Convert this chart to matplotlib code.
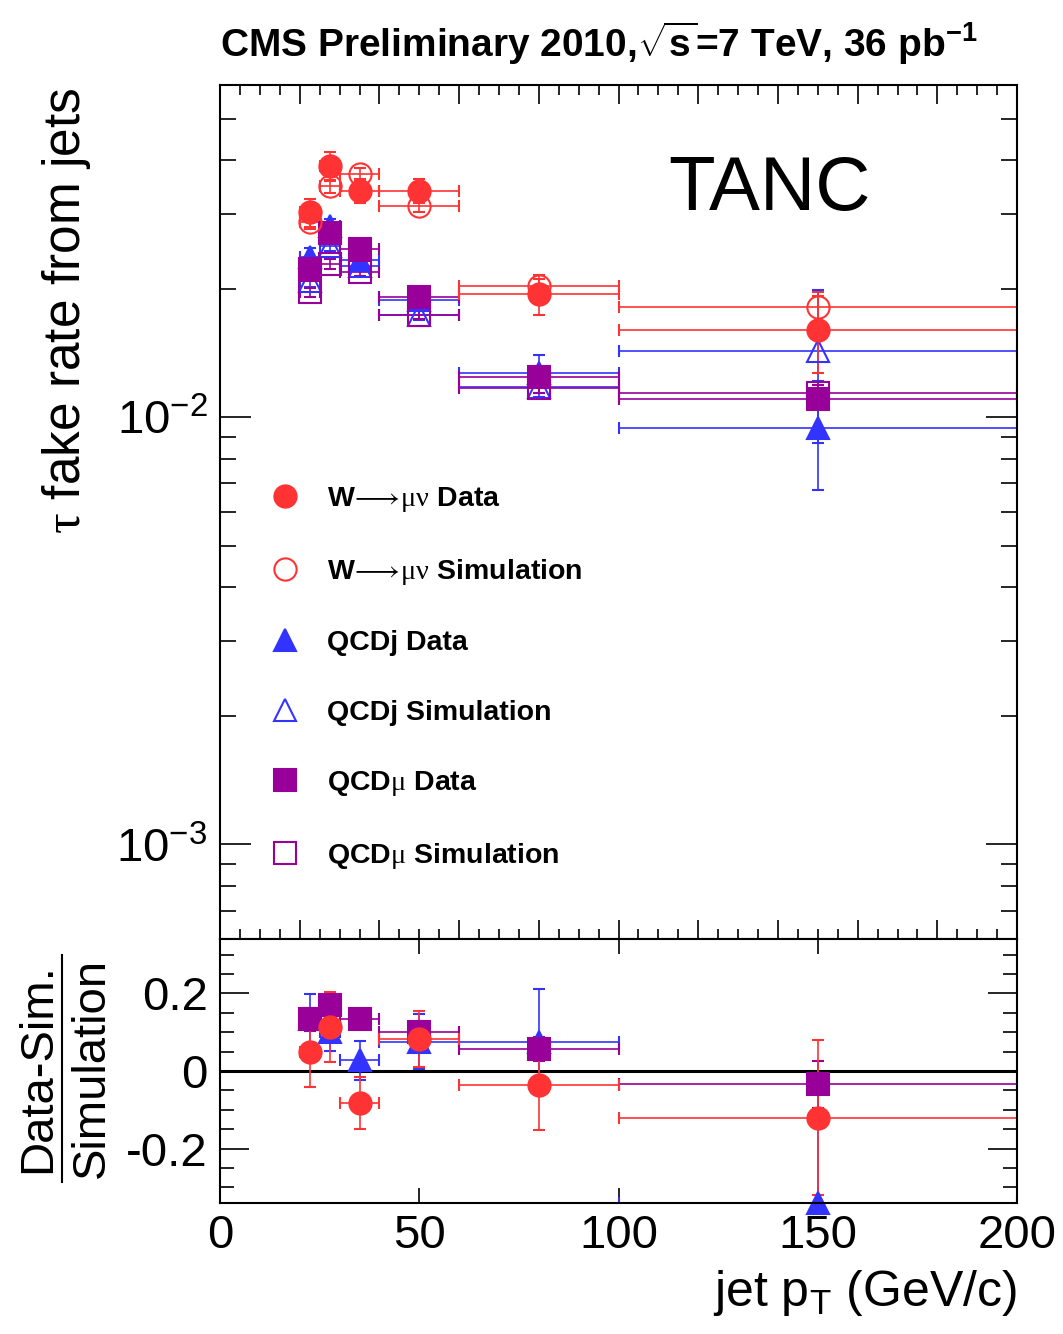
import matplotlib
matplotlib.use("Agg")
import matplotlib.pyplot as plt
from matplotlib.lines import Line2D
from matplotlib.ticker import (FixedLocator, FixedFormatter, MultipleLocator,
                               LogLocator, NullFormatter)
import numpy as np

plt.rcParams['font.family'] = ['Liberation Sans', 'DejaVu Sans']
plt.rcParams['mathtext.fontset'] = 'custom'
plt.rcParams['mathtext.rm'] = 'Liberation Serif'
plt.rcParams['mathtext.sf'] = 'Liberation Sans'
plt.rcParams['mathtext.bf'] = 'Liberation Sans:bold'

# jet pT bins (GeV/c)
bin_lo = [20, 25, 30, 40, 60, 100]
bin_hi = [25, 30, 40, 60, 100, 200]
pt = [22.5, 27.5, 35, 50, 80, 150]

# fake rates
w_data = [0.0302, 0.0388, 0.0339, 0.0339, 0.01945, 0.01597]
w_data_err = [0.0023, 0.0030, 0.0022, 0.0022, 0.0021, 0.0033]
w_sim = [0.0286, 0.0348, 0.0371, 0.0313, 0.0203, 0.0181]
w_sim_err = [0.0010, 0.0012, 0.0012, 0.0010, 0.0008, 0.0015]

qcdj_data = [0.0237, 0.0280, 0.0234, 0.0188, 0.01267, 0.00944]
qcdj_data_err = [0.0012, 0.0012, 0.0010, 0.0009, 0.0013, 0.0027]
qcdj_sim = [0.0208, 0.0252, 0.0226, 0.0174, 0.01175, 0.01429]
qcdj_sim_err = [0.0006, 0.0007, 0.0006, 0.0005, 0.0006, 0.0056]

qcdmu_data = [0.0223, 0.0270, 0.0248, 0.0191, 0.0124, 0.01106]
qcdmu_data_err = [0.0008, 0.0009, 0.0008, 0.0006, 0.0004, 0.0005]
qcdmu_sim = [0.0196, 0.0229, 0.0219, 0.0174, 0.01169, 0.0114]
qcdmu_sim_err = [0.0005, 0.0006, 0.0005, 0.0004, 0.0003, 0.0005]

# (data - sim) / sim
w_ratio = [0.050, 0.114, -0.082, 0.083, -0.037, -0.120]
w_ratio_err = [0.090, 0.090, 0.067, 0.073, 0.114, 0.200]
qcdj_ratio = [0.133, 0.101, 0.028, 0.076, 0.076, -0.340]
qcdj_ratio_err = [0.065, 0.050, 0.050, 0.070, 0.135, 0.300]
qcdmu_ratio = [0.133, 0.170, 0.133, 0.100, 0.057, -0.034]
qcdmu_ratio_err = [0.030, 0.030, 0.020, 0.030, 0.030, 0.060]

red = '#ff3333'
blue = '#3333ff'
purple = '#990099'

x = np.array(pt)
xerr = [x - np.array(bin_lo), np.array(bin_hi) - x]

fig = plt.figure(figsize=(10.63, 13.34), dpi=100)
ax = fig.add_axes([0.207, 0.296, 0.7498, 0.6403])
rax = fig.add_axes([0.207, 0.0982, 0.7498, 0.1978])

kw = dict(ls='none', ms=16, capsize=4.5, elinewidth=1.2, capthick=1.2, mew=1.5)


def draw(a, y, yerr, color, marker, filled):
    c = a.errorbar(x, y, yerr=yerr, xerr=xerr, marker=marker, color=color,
                   mec=color, mfc=color if filled else 'none', **kw)
    c[0].set_clip_on(False)  # markers on the frame stay whole


# upper panel
draw(ax, qcdj_sim, qcdj_sim_err, blue, '^', False)
draw(ax, qcdj_data, qcdj_data_err, blue, '^', True)
draw(ax, qcdmu_sim, qcdmu_sim_err, purple, 's', False)
draw(ax, qcdmu_data, qcdmu_data_err, purple, 's', True)
draw(ax, w_sim, w_sim_err, red, 'o', False)
draw(ax, w_data, w_data_err, red, 'o', True)

ax.set_yscale('log')
ax.set_xlim(0, 200)
ax.set_ylim(6e-4, 6e-2)
ax.xaxis.set_major_locator(MultipleLocator(20))
ax.xaxis.set_minor_locator(MultipleLocator(5))
ax.xaxis.set_major_formatter(NullFormatter())
ax.yaxis.set_major_locator(FixedLocator([1e-3, 1e-2]))
ax.yaxis.set_major_formatter(FixedFormatter([r'$\mathsf{10^{-3}}$', r'$\mathsf{10^{-2}}$']))
ax.yaxis.set_minor_locator(LogLocator(base=10, subs=np.arange(2, 10)))
ax.yaxis.set_minor_formatter(NullFormatter())
ax.tick_params(axis='both', which='both', direction='in', top=True, right=True, width=1.2)
ax.tick_params(axis='x', which='major', length=14)
ax.tick_params(axis='x', which='minor', length=7)
ax.tick_params(axis='y', which='major', length=22, labelsize=34, pad=9)
ax.tick_params(axis='y', which='minor', length=11.5)
for s in ax.spines.values():
    s.set_linewidth(1.5)

ax.text(0.562, 0.877, 'TANC', transform=ax.transAxes, fontsize=55, va='center', ha='left')
ax.set_ylabel(r'$\mathrm{\tau}$ fake rate from jets', fontsize=37)
ax.yaxis.set_label_coords(-0.16, 0.735)

handles = [
    Line2D([], [], ls='none', marker='o', ms=16, color=red, mew=1.5),
    Line2D([], [], ls='none', marker='o', ms=16, color=red, mfc='none', mew=1.5),
    Line2D([], [], ls='none', marker='^', ms=16, color=blue, mew=1.5),
    Line2D([], [], ls='none', marker='^', ms=16, color=blue, mfc='none', mew=1.5),
    Line2D([], [], ls='none', marker='s', ms=16, color=purple, mew=1.5),
    Line2D([], [], ls='none', marker='s', ms=16, color=purple, mfc='none', mew=1.5),
]
labels = [r'W$\!\longrightarrow\!\mathrm{\mu\nu}$ Data',
          r'W$\!\longrightarrow\!\mathrm{\mu\nu}$ Simulation',
          'QCDj Data', 'QCDj Simulation',
          r'QCD$\mathrm{\mu}$ Data', r'QCD$\mathrm{\mu}$ Simulation']
ax.legend(handles, labels, loc='upper left', bbox_to_anchor=(0.055, 0.532), frameon=False,
          prop={'size': 20.5, 'weight': 'bold'}, labelspacing=1.52, handlelength=1.5,
          handletextpad=0.7, borderpad=0, borderaxespad=0)

fig.text(220 / 1063, 1 - 43 / 1334,
         r'CMS Preliminary 2010,$\sqrt{\mathbf{s}}$=7 TeV, 36 pb$^{\mathbf{-1}}$',
         fontsize=28, fontweight='bold', ha='left', va='center')

# lower panel
rax.axhline(0, color='black', lw=2.2, zorder=1)
draw(rax, qcdj_ratio, qcdj_ratio_err, blue, '^', True)
draw(rax, qcdmu_ratio, qcdmu_ratio_err, purple, 's', True)
draw(rax, w_ratio, w_ratio_err, red, 'o', True)

rax.set_xlim(0, 200)
rax.set_ylim(-0.34, 0.34)
rax.xaxis.set_major_locator(MultipleLocator(50))
rax.yaxis.set_major_locator(FixedLocator([-0.2, 0, 0.2]))
rax.yaxis.set_major_formatter(FixedFormatter(['-0.2', '0', '0.2']))
rax.yaxis.set_minor_locator(MultipleLocator(0.05))
rax.tick_params(axis='both', which='both', direction='in', top=True, right=True, width=1.2,
                labelsize=34)
rax.tick_params(axis='x', which='major', length=11, pad=8)
rax.tick_params(axis='y', which='major', length=21, pad=9)
rax.tick_params(axis='y', which='minor', length=10)
for s in rax.spines.values():
    s.set_linewidth(1.5)

rax.set_xlabel(r'jet p$_{\mathsf{T}}$ (GeV/c)', fontsize=36)
rax.xaxis.set_label_coords(1.0, -0.245)
rax.xaxis.label.set_ha('right')

# fraction label of ratio panel
fig.text(38 / 1063, 1 - 1068 / 1334, 'Data-Sim.', rotation=90, fontsize=34,
         ha='center', va='center')
fig.text(92 / 1063, 1 - 1068 / 1334, 'Simulation', rotation=90, fontsize=34,
         ha='center', va='center')
fig.add_artist(Line2D([62 / 1063, 62 / 1063], [1 - 1182 / 1334, 1 - 955 / 1334],
                      color='black', lw=1.5, transform=fig.transFigure))

fig.savefig('out.png', dpi=100)
